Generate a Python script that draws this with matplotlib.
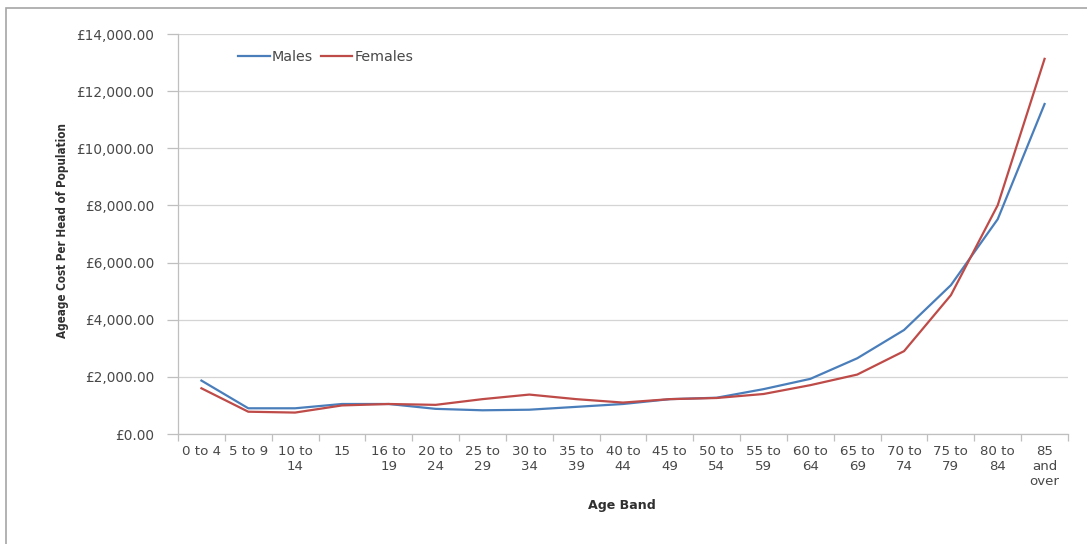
import matplotlib
matplotlib.use("Agg")
import matplotlib.pyplot as plt
from matplotlib.patches import Rectangle
from matplotlib.ticker import FixedLocator, FuncFormatter

# Age bands and average cost per head (GBP)
age_bands = ["0 to 4", "5 to 9", "10 to\n14", "15", "16 to\n19", "20 to\n24",
             "25 to\n29", "30 to\n34", "35 to\n39", "40 to\n44", "45 to\n49",
             "50 to\n54", "55 to\n59", "60 to\n64", "65 to\n69", "70 to\n74",
             "75 to\n79", "80 to\n84", "85\nand\nover"]
males = [1870, 900, 900, 1050, 1050, 880, 830, 850, 950, 1050, 1220,
         1270, 1570, 1930, 2650, 3640, 5210, 7520, 11550]
females = [1600, 780, 750, 1000, 1050, 1020, 1220, 1380, 1220, 1100, 1220,
           1260, 1400, 1710, 2080, 2900, 4860, 8010, 13130]
y_ticks = [0, 2000, 4000, 6000, 8000, 10000, 12000, 14000]

W, H, DPI = 1087, 544, 100
fig = plt.figure(figsize=(W / DPI, H / DPI), dpi=DPI)
fig.patch.set_facecolor("white")

# Outer chart frame
fig.patches.append(Rectangle((6 / W, -0.05), 1.2, 1 - 8 / H + 0.05,
                             transform=fig.transFigure, fill=False,
                             edgecolor="#a6a6a6", linewidth=1.2))

x0, x1, ytop, ybot = 178, 1068, 34, 434
ax = fig.add_axes([x0 / W, 1 - ybot / H, (x1 - x0) / W, (ybot - ytop) / H])
x = list(range(len(age_bands)))

ax.plot(x, males, color="#4a7ebb", linewidth=1.6, label="Males")
ax.plot(x, females, color="#be4b48", linewidth=1.6, label="Females")

ax.set_xlim(-0.5, len(age_bands) - 0.5)
ax.set_ylim(0, 14000)

grid_c = "#bfbfbf"
txt_c = "#484848"
ax.yaxis.set_major_locator(FixedLocator(y_ticks))
ax.yaxis.set_major_formatter(FuncFormatter(lambda v, p: "£{:,.2f}".format(v)))
ax.grid(axis="y", color="#d4d4d4", linewidth=0.9)
ax.set_axisbelow(True)

ax.set_xticks(x)
ax.set_xticklabels(age_bands, fontsize=9.6, color=txt_c, linespacing=1.2,
                   verticalalignment="top")
ax.set_xticks([i + 0.5 for i in x[:-1]] + [-0.5, len(age_bands) - 0.5], minor=True)
ax.tick_params(axis="x", which="major", length=0, pad=8)
ax.tick_params(axis="x", which="minor", length=5, color=grid_c, width=0.9)
ax.tick_params(axis="y", which="major", length=8, color=grid_c, width=0.9,
               labelsize=9.8, labelcolor=txt_c, pad=9)

for s in ["top", "right"]:
    ax.spines[s].set_visible(False)
for s in ["left", "bottom"]:
    ax.spines[s].set_color(grid_c)
    ax.spines[s].set_linewidth(0.9)

ax.set_xlabel("Age Band", fontsize=9.1, fontweight="bold", color="#303030")
ax.xaxis.set_label_coords((622 - x0) / (x1 - x0), (ybot - 505) / (ybot - ytop))
ax.xaxis.label.set_verticalalignment("center")

ax.set_ylabel("Ageage Cost Per Head of Population", fontsize=8.4,
              fontweight="bold", color="#303030", fontstretch="condensed")
ax.yaxis.set_label_coords((63 - x0) / (x1 - x0), (ybot - 230) / (ybot - ytop))
ax.yaxis.label.set_verticalalignment("center")
ax.yaxis.label.set_horizontalalignment("center")

leg = ax.legend(loc="center left",
                bbox_to_anchor=((231 - x0) / (x1 - x0), (ybot - 57) / (ybot - ytop)),
                ncol=2, frameon=False, fontsize=10.3, borderpad=0,
                handlelength=2.2, handletextpad=0.15, columnspacing=0.55)
for t in leg.get_texts():
    t.set_color(txt_c)

fig.savefig("out.png", dpi=DPI, facecolor="white")
